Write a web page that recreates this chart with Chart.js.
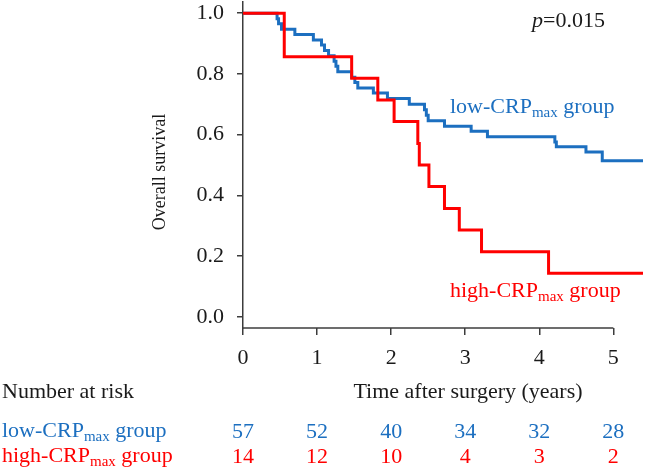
<!DOCTYPE html>
<html>
<head>
<meta charset="utf-8">
<script src="https://cdn.jsdelivr.net/npm/chart.js@4.4.1/dist/chart.umd.min.js"></script>
<style>
  html, body { margin: 0; padding: 0; background: #fff; }
  #wrap { width: 645px; height: 469px; }
</style>
</head>
<body>
<div id="wrap"><canvas id="km" width="645" height="469"></canvas></div>
<script>
// Kaplan-Meier steps (years, survival after each event)
const lowTimes = [0, 0.46, 0.48, 0.52, 0.70, 0.95, 1.06, 1.10, 1.155, 1.23, 1.255, 1.28, 1.467, 1.51, 1.55, 1.76, 1.95, 2.245, 2.45, 2.475, 2.50, 2.72, 3.08, 3.30, 4.21, 4.23, 4.63, 4.85, 5.4];
const lowSurv  = [1, 0.982, 0.965, 0.947, 0.930, 0.912, 0.895, 0.877, 0.860, 0.842, 0.825, 0.807, 0.789, 0.772, 0.754, 0.737, 0.719, 0.700, 0.682, 0.664, 0.646, 0.628, 0.611, 0.593, 0.576, 0.560, 0.543, 0.514, 0.514];
const highTimes = [0, 0.557, 1.467, 1.82, 2.04, 2.36, 2.38, 2.51, 2.72, 2.92, 3.22, 4.125, 5.4];
const highSurv  = [1, 0.857, 0.786, 0.714, 0.643, 0.571, 0.5, 0.429, 0.357, 0.286, 0.214, 0.143, 0.143];

const yearTicks = [0, 1, 2, 3, 4, 5];
const survTicks = [0, 0.2, 0.4, 0.6, 0.8, 1.0];
const lowAtRisk  = [57, 52, 40, 34, 32, 28];
const highAtRisk = [14, 12, 10, 4, 3, 2];

const BLUE = '#1c6fc0';
const RED = '#ff0000';
const INK = '#1a1a1a';
const AXIS = '#3c3c3c';
const SERIF = '"Liberation Serif", "Times New Roman", serif';

function toPoints(xs, ys) {
    return xs.map((x, i) => ({ x: x, y: ys[i] }));
}

// "low-CRP" + subscript "max" + " group", x = left edge, y = baseline
function groupLabel(ctx, x, y, name, color) {
    ctx.fillStyle = color;
    ctx.textAlign = 'left';
    ctx.textBaseline = 'alphabetic';
    ctx.font = '22px ' + SERIF;
    const head = name + '-CRP';
    ctx.fillText(head, x, y);
    let cx = x + ctx.measureText(head).width;
    ctx.font = '15px ' + SERIF;
    ctx.fillText('max', cx, y + 4);
    cx += ctx.measureText('max').width;
    ctx.font = '22px ' + SERIF;
    ctx.fillText(' group', cx, y);
}

const kmText = {
    id: 'kmText',
    afterDraw(chart) {
        const ctx = chart.ctx;
        const xs = chart.scales.x;
        ctx.save();

        // x axis line only spans 0..5 years
        ctx.strokeStyle = AXIS;
        ctx.lineWidth = 1.5;
        ctx.beginPath();
        ctx.moveTo(xs.getPixelForValue(yearTicks[0]), chart.chartArea.bottom);
        ctx.lineTo(xs.getPixelForValue(yearTicks[yearTicks.length - 1]), chart.chartArea.bottom);
        ctx.stroke();

        // y axis title
        ctx.save();
        ctx.translate(165, 172);
        ctx.rotate(-Math.PI / 2);
        ctx.fillStyle = INK;
        ctx.font = '18px ' + SERIF;
        ctx.textAlign = 'center';
        ctx.textBaseline = 'alphabetic';
        ctx.fillText('Overall survival', 0, 0);
        ctx.restore();

        // p value
        ctx.fillStyle = INK;
        ctx.textBaseline = 'alphabetic';
        ctx.textAlign = 'left';
        ctx.font = 'italic 22px ' + SERIF;
        ctx.fillText('p', 532, 27);
        const pw = ctx.measureText('p').width;
        ctx.font = '22px ' + SERIF;
        ctx.fillText('=0.015', 532 + pw, 27);

        // curve labels
        groupLabel(ctx, 450, 113, 'low', BLUE);
        groupLabel(ctx, 450, 297, 'high', RED);

        // x title and risk table
        ctx.fillStyle = INK;
        ctx.font = '22px ' + SERIF;
        ctx.textAlign = 'left';
        ctx.fillText('Number at risk', 2, 398);
        ctx.textAlign = 'center';
        ctx.fillText('Time after surgery (years)', 468, 398);

        groupLabel(ctx, 2, 437, 'low', BLUE);
        groupLabel(ctx, 2, 462, 'high', RED);

        ctx.font = '22px ' + SERIF;
        ctx.textAlign = 'center';
        yearTicks.forEach((t, i) => {
            const px = xs.getPixelForValue(t);
            ctx.fillStyle = BLUE;
            ctx.fillText(String(lowAtRisk[i]), px, 438);
            ctx.fillStyle = RED;
            ctx.fillText(String(highAtRisk[i]), px, 463);
        });
        ctx.restore();
    }
};

new Chart(document.getElementById('km'), {
    type: 'line',
    data: {
        datasets: [
            {
                label: 'high-CRPmax group',
                data: toPoints(highTimes, highSurv),
                borderColor: RED,
                borderWidth: 3,
                stepped: true,
                pointRadius: 0,
                fill: false,
                order: 0
            },
            {
                label: 'low-CRPmax group',
                data: toPoints(lowTimes, lowSurv),
                borderColor: BLUE,
                borderWidth: 3,
                stepped: true,
                pointRadius: 0,
                fill: false,
                order: 1
            }
        ]
    },
    options: {
        responsive: false,
        animation: false,
        layout: { padding: { left: 0, right: 2, top: 2, bottom: 0 } },
        plugins: {
            legend: { display: false },
            tooltip: { enabled: false }
        },
        scales: {
            x: {
                type: 'linear',
                min: 0,
                max: 5.4,
                afterBuildTicks: s => { s.ticks = yearTicks.map(v => ({ value: v })); },
                afterFit: s => { s.height = 141; },
                border: { display: false },
                grid: { drawOnChartArea: false, drawTicks: true, tickLength: 7, color: AXIS, lineWidth: 1.5 },
                ticks: {
                    padding: 10,
                    color: INK,
                    font: { family: SERIF, size: 22 },
                    maxRotation: 0
                }
            },
            y: {
                min: -0.037,
                max: 1.037,
                afterBuildTicks: s => { s.ticks = survTicks.map(v => ({ value: v })); },
                afterFit: s => { s.width = 243; s.paddingTop = 0; s.paddingBottom = 0; },
                border: { display: true, color: AXIS, width: 1.5 },
                grid: { drawOnChartArea: false, drawTicks: true, tickLength: 6, color: AXIS, lineWidth: 1.5 },
                ticks: {
                    padding: 13,
                    color: INK,
                    font: { family: SERIF, size: 22 },
                    callback: v => v.toFixed(1)
                }
            }
        }
    },
    plugins: [kmText]
});
</script>
</body>
</html>
